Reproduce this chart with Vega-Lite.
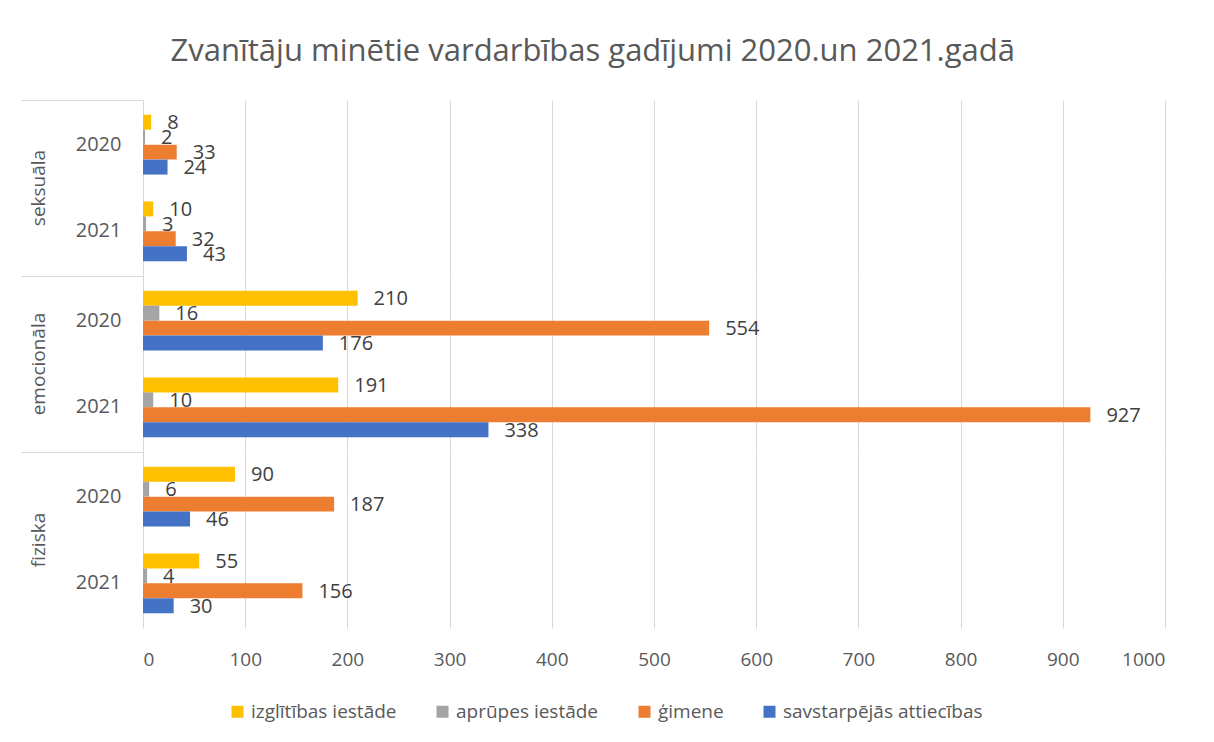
{
  "$schema": "https://vega.github.io/schema/vega-lite/v6.json",
  "padding": {"left": 20, "top": 35, "right": 40, "bottom": 20},
  "background": "white",
  "title": {
    "text": "Zvanītāju minētie vardarbības gadījumi 2020.un 2021.gadā",
    "font": "Open Sans",
    "fontSize": 31,
    "fontWeight": "normal",
    "color": "#595959",
    "anchor": "middle",
    "frame": "bounds",
    "offset": 32
  },
  "data": {
    "values": [
      {"kategorija": "seksuāla", "gads": "2020", "veids": "izglītības iestāde", "vertiba": 8},
      {"kategorija": "seksuāla", "gads": "2020", "veids": "aprūpes iestāde", "vertiba": 2},
      {"kategorija": "seksuāla", "gads": "2020", "veids": "ģimene", "vertiba": 33},
      {"kategorija": "seksuāla", "gads": "2020", "veids": "savstarpējās attiecības", "vertiba": 24},
      {"kategorija": "seksuāla", "gads": "2021", "veids": "izglītības iestāde", "vertiba": 10},
      {"kategorija": "seksuāla", "gads": "2021", "veids": "aprūpes iestāde", "vertiba": 3},
      {"kategorija": "seksuāla", "gads": "2021", "veids": "ģimene", "vertiba": 32},
      {"kategorija": "seksuāla", "gads": "2021", "veids": "savstarpējās attiecības", "vertiba": 43},
      {"kategorija": "emocionāla", "gads": "2020", "veids": "izglītības iestāde", "vertiba": 210},
      {"kategorija": "emocionāla", "gads": "2020", "veids": "aprūpes iestāde", "vertiba": 16},
      {"kategorija": "emocionāla", "gads": "2020", "veids": "ģimene", "vertiba": 554},
      {"kategorija": "emocionāla", "gads": "2020", "veids": "savstarpējās attiecības", "vertiba": 176},
      {"kategorija": "emocionāla", "gads": "2021", "veids": "izglītības iestāde", "vertiba": 191},
      {"kategorija": "emocionāla", "gads": "2021", "veids": "aprūpes iestāde", "vertiba": 10},
      {"kategorija": "emocionāla", "gads": "2021", "veids": "ģimene", "vertiba": 927},
      {"kategorija": "emocionāla", "gads": "2021", "veids": "savstarpējās attiecības", "vertiba": 338},
      {"kategorija": "fiziska", "gads": "2020", "veids": "izglītības iestāde", "vertiba": 90},
      {"kategorija": "fiziska", "gads": "2020", "veids": "aprūpes iestāde", "vertiba": 6},
      {"kategorija": "fiziska", "gads": "2020", "veids": "ģimene", "vertiba": 187},
      {"kategorija": "fiziska", "gads": "2020", "veids": "savstarpējās attiecības", "vertiba": 46},
      {"kategorija": "fiziska", "gads": "2021", "veids": "izglītības iestāde", "vertiba": 55},
      {"kategorija": "fiziska", "gads": "2021", "veids": "aprūpes iestāde", "vertiba": 4},
      {"kategorija": "fiziska", "gads": "2021", "veids": "ģimene", "vertiba": 156},
      {"kategorija": "fiziska", "gads": "2021", "veids": "savstarpējās attiecības", "vertiba": 30}
    ]
  },
  "facet": {
    "row": {
      "field": "kategorija",
      "type": "nominal",
      "sort": ["seksuāla", "emocionāla", "fiziska"],
      "header": {
        "title": null,
        "labelAngle": -90,
        "labelOrient": "left",
        "labelFont": "Open Sans",
        "labelFontSize": 19,
        "labelColor": "#595959",
        "labelPadding": -37
      }
    }
  },
  "spacing": 0,
  "spec": {
    "width": 1022,
    "height": 176,
    "encoding": {
      "y": {
        "field": "gads",
        "type": "nominal",
        "sort": ["2020", "2021"],
        "scale": {"paddingInner": 0.31, "paddingOuter": 0.17},
        "axis": {
          "title": null,
          "domain": false,
          "ticks": true,
          "tickSize": 122,
          "bandPosition": -0.245,
          "tickColor": {"condition": {"test": "datum.value === '2020'", "value": "#d9d9d9"}, "value": "transparent"},
          "tickWidth": 1,
          "labelPadding": -100,
          "labelFont": "Open Sans",
          "labelFontSize": 20,
          "labelColor": "#595959"
        }
      },
      "yOffset": {
        "field": "veids",
        "type": "nominal",
        "sort": ["izglītības iestāde", "aprūpes iestāde", "ģimene", "savstarpējās attiecības"],
        "scale": {"paddingInner": 0, "paddingOuter": 0}
      },
      "x": {
        "field": "vertiba",
        "type": "quantitative",
        "scale": {"domain": [0, 1000], "nice": false},
        "axis": {
          "title": null,
          "values": [0, 100, 200, 300, 400, 500, 600, 700, 800, 900, 1000],
          "format": "d",
          "grid": true,
          "gridColor": "#d9d9d9",
          "domain": false,
          "ticks": false,
          "labelPadding": 22,
          "labelFont": "Open Sans",
          "labelFontSize": 19,
          "labelColor": "#595959"
        }
      }
    },
    "layer": [
      {
        "mark": {"type": "bar"},
        "encoding": {
          "color": {
            "field": "veids",
            "type": "nominal",
            "sort": ["izglītības iestāde", "aprūpes iestāde", "ģimene", "savstarpējās attiecības"],
            "scale": {
              "domain": ["izglītības iestāde", "aprūpes iestāde", "ģimene", "savstarpējās attiecības"],
              "range": ["#FFC000", "#A5A5A5", "#ED7D31", "#4472C4"]
            },
            "legend": {
              "title": null,
              "orient": "none",
              "legendX": 85,
              "legendY": 602,
              "direction": "horizontal",
              "symbolType": "square",
              "symbolSize": 144,
              "symbolStrokeWidth": 0,
              "labelFont": "Open Sans",
              "labelFontSize": 19,
              "labelColor": "#595959",
              "labelLimit": 400,
              "columnPadding": 36
            }
          }
        }
      },
      {
        "mark": {"type": "text", "align": "left", "baseline": "middle", "dx": 16, "dy": 1, "font": "Open Sans", "fontSize": 20, "color": "#404040"},
        "encoding": {"text": {"field": "vertiba", "type": "quantitative"}}
      }
    ]
  },
  "config": {"view": {"stroke": null}}
}
